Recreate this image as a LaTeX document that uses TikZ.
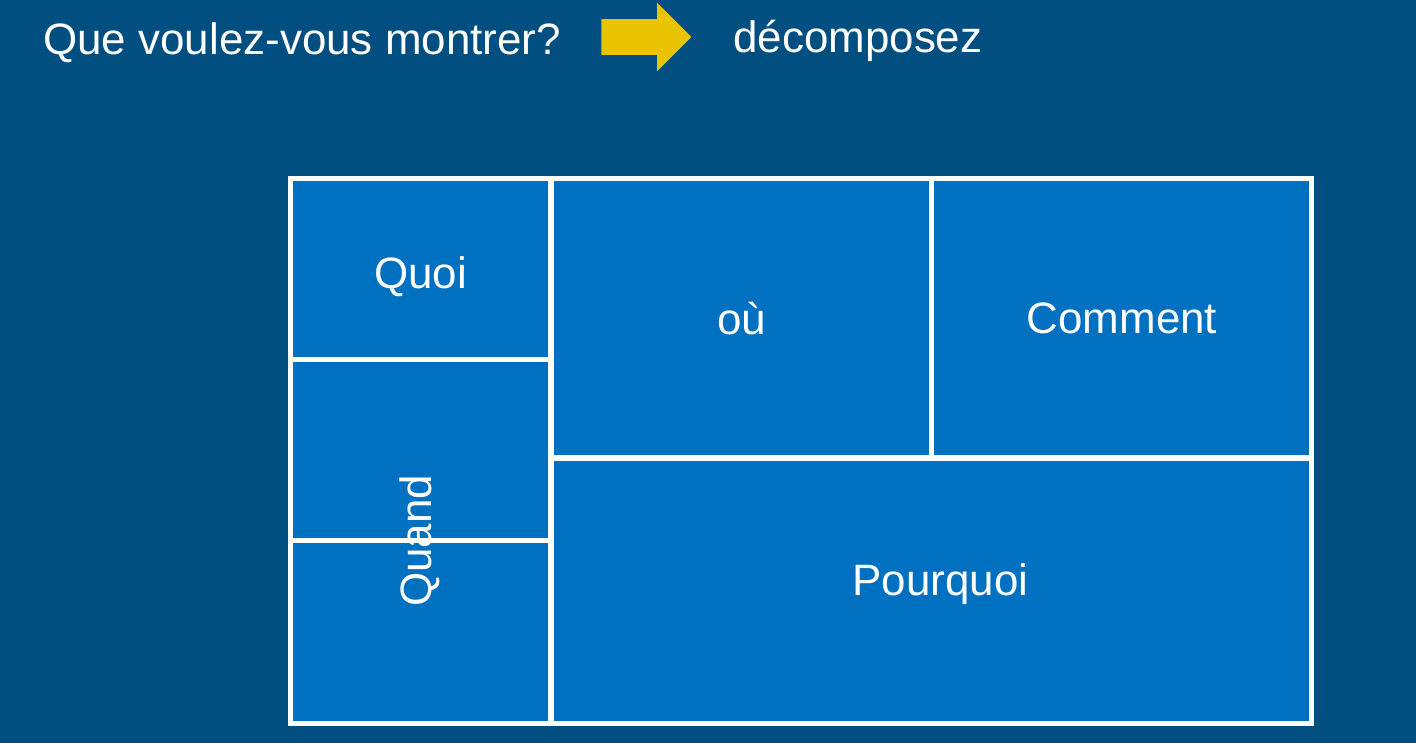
\documentclass[tikz,border=0pt]{standalone}
\usepackage{fontspec}
\setmainfont{Liberation Sans}
\usepackage{tikz}
\usetikzlibrary{positioning, shapes.arrows}
\definecolor{slidebg}{HTML}{014E80}
\definecolor{cellblue}{HTML}{0070C0}
\definecolor{arrowgold}{HTML}{EBC400}
\tikzset{
  cell/.style={draw=white, line width=0.1cm, fill=cellblue, outer sep=0pt,
               inner sep=0pt, anchor=north west},
  lbl/.style={text=white, font=\fontsize{25}{30}\selectfont, inner sep=0pt},
  title/.style={lbl, anchor=base west},
}

\begin{document}
\begin{tikzpicture}[x=0.02cm, y=-0.02cm]
  \fill[slidebg] (0,0) rectangle (1416,743);
  \useasboundingbox (0,0) rectangle (1416,743);

  % title line
  \node[title] (ask) at (43,55) {Que voulez-vous montrer?};
  \node[single arrow, fill=arrowgold, inner xsep=0pt, inner ysep=0.35cm,
        minimum height=1.8cm, single arrow head extend=0.33cm,
        anchor=west] (go) at (601,37) {};
  \node[title] (split) at (733,53) {décomposez};

  % the grid of questions
  \node[cell, minimum width=5.22cm, minimum height=3.62cm] (quoi) at (290,179) {};
  \node[cell, below=0pt of quoi, minimum width=5.22cm, minimum height=3.62cm] (quand1) {};
  \node[cell, below=0pt of quand1, minimum width=5.22cm, minimum height=3.66cm] (quand2) {};
  \node[cell, minimum width=7.62cm, minimum height=5.58cm] (ou) at (551,179) {};
  \node[cell, right=0pt of ou, minimum width=7.6cm, minimum height=5.58cm] (comment) {};
  \node[cell, minimum width=15.22cm, minimum height=5.32cm] (pourquoi) at (551,458) {};

  \node[lbl] at ([yshift=-0.14cm]quoi.center) {Quoi};
  \node[lbl] at (ou.center) {où};
  \node[lbl] at (comment.center) {Comment};
  \node[lbl] at ([xshift=2.6cm]quand2.north west) [rotate=90] {Quand};
  \node[lbl] at ([xshift=0.18cm, yshift=0.14cm]pourquoi.center) {Pourquoi};
\end{tikzpicture}
\end{document}
